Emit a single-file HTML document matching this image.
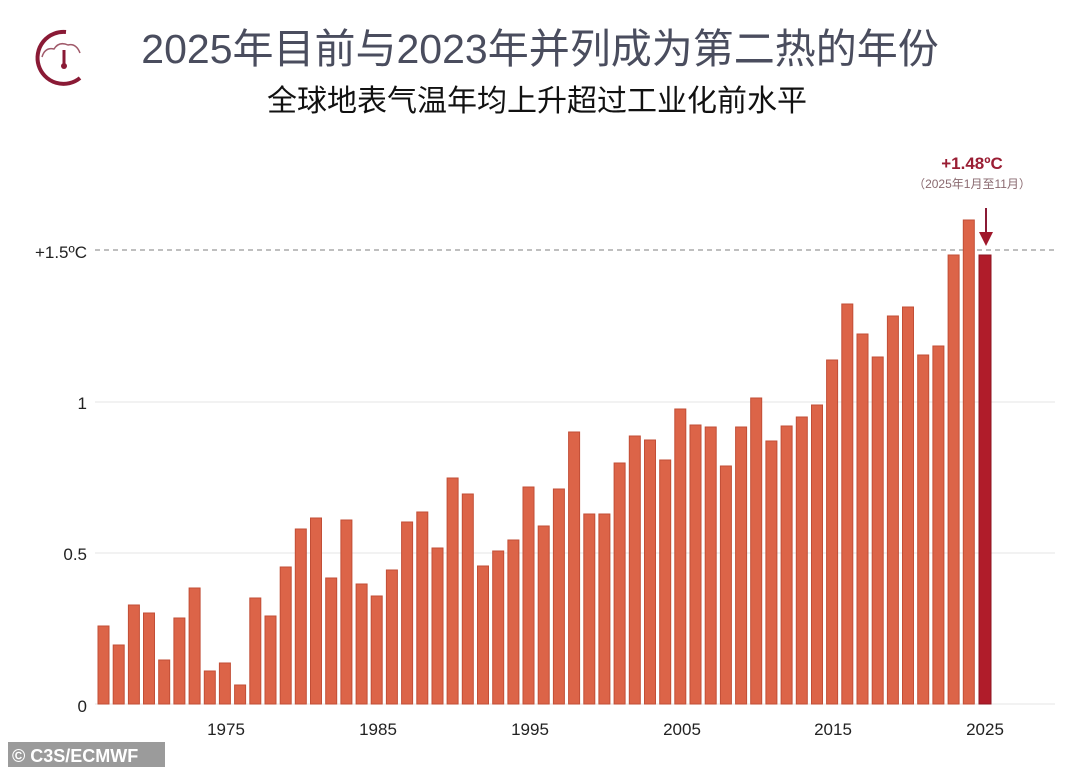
<!DOCTYPE html>
<html><head><meta charset="utf-8"><style>
body{margin:0;width:1080px;height:767px;background:#fff;overflow:hidden;font-family:"Liberation Sans","Noto Sans CJK SC",sans-serif;}
</style></head><body>
<svg width="1080" height="767" xmlns="http://www.w3.org/2000/svg" style="position:absolute;left:0;top:0">
<g fill="none" stroke="#8a1a35">
<path d="M66 32 A26 26 0 1 0 80 78" stroke-width="4"/>
<path d="M42 57 q3-10 12-8 q5-8 14-4 q8-2 12 8" stroke-width="1.5" stroke="#a05a6a"/>
<line x1="64" y1="50" x2="64" y2="64" stroke-width="3"/>
</g>
<circle cx="64" cy="66" r="3" fill="#8a1a35"/>
<text x="540" y="63" text-anchor="middle" font-size="41" fill="#4a4d5e" font-family="Liberation Sans, Noto Sans CJK SC, sans-serif">2025年目前与2023年并列成为第二热的年份</text>
<text x="537" y="111" text-anchor="middle" font-size="30" fill="#111" font-family="Liberation Sans, Noto Sans CJK SC, sans-serif">全球地表气温年均上升超过工业化前水平</text>
<g stroke="#e6e6e6" stroke-width="1">
<line x1="95" y1="402" x2="1055" y2="402"/><line x1="95" y1="553" x2="1055" y2="553"/><line x1="95" y1="704" x2="1055" y2="704"/>
</g>
<line x1="95" y1="250" x2="1055" y2="250" stroke="#999" stroke-dasharray="5,4" stroke-width="1.2"/>
<g font-size="17" fill="#222" text-anchor="end">
<text x="87" y="258">+1.5ºC</text><text x="87" y="409">1</text><text x="87" y="560">0.5</text><text x="87" y="712">0</text>
</g>
<g font-size="17" fill="#222" text-anchor="middle">
<text x="226" y="735">1975</text><text x="378" y="735">1985</text><text x="530" y="735">1995</text><text x="682" y="735">2005</text><text x="833" y="735">2015</text><text x="985" y="735">2025</text>
</g>
<g fill="#dc6448" stroke="#c24e36" stroke-width="1">
<rect x="98" y="626" width="11" height="78"/><rect x="113.2" y="645" width="11" height="59"/><rect x="128.4" y="605" width="11" height="99"/><rect x="143.5" y="613" width="11" height="91"/><rect x="158.7" y="660" width="11" height="44"/><rect x="173.9" y="618" width="11" height="86"/><rect x="189.1" y="588" width="11" height="116"/><rect x="204.3" y="671" width="11" height="33"/><rect x="219.4" y="663" width="11" height="41"/><rect x="234.6" y="685" width="11" height="19"/>
<rect x="249.8" y="598" width="11" height="106"/><rect x="265" y="616" width="11" height="88"/><rect x="280.2" y="567" width="11" height="137"/><rect x="295.3" y="529" width="11" height="175"/><rect x="310.5" y="518" width="11" height="186"/><rect x="325.7" y="578" width="11" height="126"/><rect x="340.9" y="520" width="11" height="184"/><rect x="356.1" y="584" width="11" height="120"/><rect x="371.2" y="596" width="11" height="108"/><rect x="386.4" y="570" width="11" height="134"/>
<rect x="401.6" y="522" width="11" height="182"/><rect x="416.8" y="512" width="11" height="192"/><rect x="432" y="548" width="11" height="156"/><rect x="447.1" y="478" width="11" height="226"/><rect x="462.3" y="494" width="11" height="210"/><rect x="477.5" y="566" width="11" height="138"/><rect x="492.7" y="551" width="11" height="153"/><rect x="507.9" y="540" width="11" height="164"/><rect x="523" y="487" width="11" height="217"/><rect x="538.2" y="526" width="11" height="178"/>
<rect x="553.4" y="489" width="11" height="215"/><rect x="568.6" y="432" width="11" height="272"/><rect x="583.8" y="514" width="11" height="190"/><rect x="598.9" y="514" width="11" height="190"/><rect x="614.1" y="463" width="11" height="241"/><rect x="629.3" y="436" width="11" height="268"/><rect x="644.5" y="440" width="11" height="264"/><rect x="659.7" y="460" width="11" height="244"/><rect x="674.8" y="409" width="11" height="295"/><rect x="690" y="425" width="11" height="279"/>
<rect x="705.2" y="427" width="11" height="277"/><rect x="720.4" y="466" width="11" height="238"/><rect x="735.6" y="427" width="11" height="277"/><rect x="750.7" y="398" width="11" height="306"/><rect x="765.9" y="441" width="11" height="263"/><rect x="781.1" y="426" width="11" height="278"/><rect x="796.3" y="417" width="11" height="287"/><rect x="811.5" y="405" width="11" height="299"/><rect x="826.6" y="360" width="11" height="344"/><rect x="841.8" y="304" width="11" height="400"/>
<rect x="857" y="334" width="11" height="370"/><rect x="872.2" y="357" width="11" height="347"/><rect x="887.4" y="316" width="11" height="388"/><rect x="902.5" y="307" width="11" height="397"/><rect x="917.7" y="355" width="11" height="349"/><rect x="932.9" y="346" width="11" height="358"/><rect x="948.1" y="255" width="11" height="449"/><rect x="963.3" y="220" width="11" height="484"/>
</g>
<rect x="979" y="255" width="12" height="449" fill="#b01c2a" stroke="#8e1420"/>
<line x1="986" y1="208" x2="986" y2="236" stroke="#8a1a35" stroke-width="2"/>
<polygon points="979,232 993,232 986,246" fill="#a0182c"/>
<text x="972" y="169" text-anchor="middle" font-size="17" font-weight="bold" fill="#9a1e34">+1.48ºC</text>
<text x="972" y="188" text-anchor="middle" font-size="12" fill="#8a6a70" font-family="Liberation Sans, Noto Sans CJK SC, sans-serif">（2025年1月至11月）</text>
<rect x="8" y="742" width="157" height="25" fill="#9b9b9b"/>
<text x="12" y="762" font-size="18" font-weight="bold" fill="#fff">© C3S/ECMWF</text>
</svg>
</body></html>
